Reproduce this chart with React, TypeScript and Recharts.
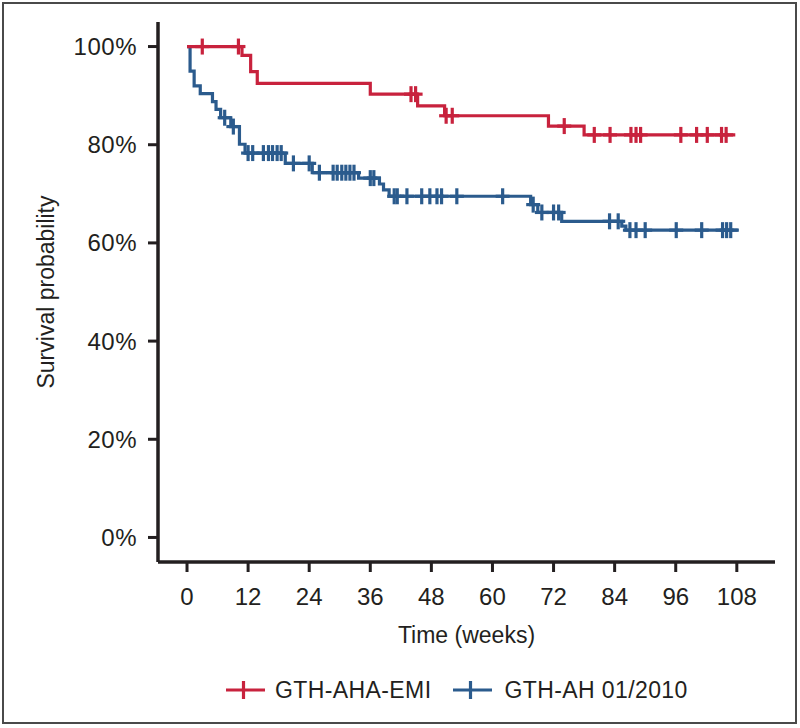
import React from "react";
import { LineChart, Line, XAxis, YAxis, Label, Legend } from "recharts";

// GTH-AHA-EMI (red)
const emiTime = [0, 3.0, 10.1, 10.8, 12.5, 13.8, 36.0, 44.0, 44.9, 45.3, 50.6, 50.9, 52.1, 71.0, 74.1, 78.0, 80.0, 83.1, 87.2, 88.2, 89.1, 97.0, 100.1, 102.2, 105.0, 105.9, 107.7];
const emiSurv = [100, 100, 100, 98.2, 94.9, 92.5, 90.3, 90.3, 90.3, 87.9, 85.9, 85.9, 85.9, 83.8, 83.8, 82.0, 82.0, 82.0, 82.0, 82.0, 82.0, 82.0, 82.0, 82.0, 82.0, 82.0, 82.0];
const emiCensored = [0, 1, 1, 0, 0, 0, 0, 1, 1, 0, 0, 1, 1, 0, 1, 0, 1, 1, 1, 1, 1, 1, 1, 1, 1, 1, 0];

// GTH-AH 01/2010 (blue)
const ahTime = [0, 0.6, 1.4, 2.6, 5.0, 5.7, 6.6, 7.4, 8.6, 9.1, 10.3, 11.4, 12.0, 12.9, 15.0, 16.0, 16.8, 17.7, 18.5, 19.3, 20.9, 24.0, 24.6, 26.0, 28.7, 29.5, 30.4, 31.2, 32.0, 32.8, 33.7, 36.0, 36.7, 37.8, 38.6, 39.7, 40.7, 41.3, 43.2, 46.1, 47.7, 49.1, 50.0, 53.0, 62.0, 67.5, 68.0, 68.9, 69.7, 72.0, 73.0, 73.6, 83.0, 84.7, 85.4, 86.2, 87.0, 88.2, 90.0, 96.1, 101.1, 105.2, 106.0, 106.8, 108.4];
const ahSurv = [100, 95.0, 92.0, 90.4, 88.8, 87.2, 85.5, 85.5, 83.7, 83.7, 80.1, 78.3, 78.3, 78.3, 78.3, 78.3, 78.3, 78.3, 78.3, 76.2, 76.2, 76.2, 74.3, 74.3, 74.3, 74.3, 74.3, 74.3, 74.3, 74.3, 73.2, 73.2, 73.2, 72.0, 70.8, 69.5, 69.5, 69.5, 69.5, 69.5, 69.5, 69.5, 69.5, 69.5, 69.5, 67.8, 67.8, 66.2, 66.2, 66.2, 66.2, 64.4, 64.4, 64.4, 63.4, 62.6, 62.6, 62.6, 62.6, 62.6, 62.6, 62.6, 62.6, 62.6, 62.6];
const ahCensored = [0, 0, 0, 0, 0, 0, 0, 1, 0, 1, 0, 0, 1, 1, 1, 1, 1, 1, 1, 0, 1, 1, 0, 1, 1, 1, 1, 1, 1, 1, 0, 1, 1, 0, 0, 0, 1, 1, 1, 1, 1, 1, 1, 1, 1, 0, 1, 0, 1, 1, 1, 0, 1, 1, 0, 0, 1, 1, 1, 1, 1, 1, 1, 1, 0];

const xTicks = [0, 12, 24, 36, 48, 60, 72, 84, 96, 108];
const yTicks = [0, 20, 40, 60, 80, 100];

const RED = "#c8223d";
const BLUE = "#2b5b8d";
const INK = "#231f20";
const FONT = "'Liberation Sans', Arial, Helvetica, sans-serif";

const toPoints = (time: number[], surv: number[], cens: number[]) =>
  time.map((t, i) => ({ t, s: surv[i], censored: cens[i] === 1 }));

const emiData = toPoints(emiTime, emiSurv, emiCensored);
const ahData = toPoints(ahTime, ahSurv, ahCensored);

// censored observations drawn as "+" marks on the step line
const censorMark = (color: string, name: string) => (props: any) => {
  const { cx, cy, payload, index } = props;
  if (!payload || !payload.censored) return <g key={`${name}-${index}`} />;
  return (
    <g key={`${name}-${index}`}>
      <line x1={cx - 7} x2={cx + 7} y1={cy} y2={cy} stroke={color} strokeWidth={3.2} />
      <line x1={cx} x2={cx} y1={cy - 8} y2={cy + 8} stroke={color} strokeWidth={3.2} />
    </g>
  );
};

const LegendIcon = ({ color }: { color: string }) => (
  <svg width={39} height={18} style={{ display: "block" }}>
    <line x1={0} x2={39} y1={9} y2={9} stroke={color} strokeWidth={3.2} />
    <line x1={17.5} x2={17.5} y1={0} y2={18} stroke={color} strokeWidth={3.2} />
  </svg>
);

const legendText = {
  fontFamily: FONT,
  fontSize: 23,
  letterSpacing: 0.4,
  color: INK,
};

const renderLegend = () => (
  <div style={{ display: "flex", alignItems: "center", height: 30, paddingLeft: 226 }}>
    <LegendIcon color={RED} />
    <span style={{ ...legendText, marginLeft: 10, marginRight: 22 }}>GTH-AHA-EMI</span>
    <LegendIcon color={BLUE} />
    <span style={{ ...legendText, marginLeft: 12 }}>GTH-AH 01/2010</span>
  </div>
);

export default function App() {
  return (
    <div style={{ position: "absolute", left: 0, top: 0, width: 800, height: 728, background: "#fff" }}>
      <div
        style={{
          position: "absolute",
          left: 2,
          top: 2,
          width: 795,
          height: 722,
          border: "2px solid #4a4a4a",
          boxSizing: "border-box",
        }}
      />
      <LineChart width={800} height={728} margin={{ top: 22, right: 25, left: 20, bottom: 46 }}>
        <XAxis
          type="number"
          dataKey="t"
          domain={[-5.7, 115.5]}
          ticks={xTicks}
          interval={0}
          height={90}
          tickSize={10}
          tickMargin={16}
          axisLine={{ stroke: INK, strokeWidth: 3.5 }}
          tickLine={{ stroke: INK, strokeWidth: 3 }}
          tick={{ fontSize: 24, fill: INK, fontFamily: FONT }}
        >
          <Label
            value="Time (weeks)"
            position="insideBottom"
            offset={9}
            style={{ fontSize: 23, fill: INK, fontFamily: FONT }}
          />
        </XAxis>
        <YAxis
          type="number"
          domain={[-5, 105]}
          ticks={yTicks}
          interval={0}
          width={138}
          tickSize={10}
          tickMargin={11}
          tickFormatter={(v) => `${v}%`}
          axisLine={{ stroke: INK, strokeWidth: 3.5 }}
          tickLine={{ stroke: INK, strokeWidth: 3 }}
          tick={{ fontSize: 24, fill: INK, fontFamily: FONT, letterSpacing: 0.5 }}
        >
          <Label
            value="Survival probability"
            angle={-90}
            position="insideLeft"
            offset={25.5}
            style={{ fontSize: 23, fill: INK, fontFamily: FONT, textAnchor: "middle" }}
          />
        </YAxis>
        <Legend
          verticalAlign="bottom"
          align="left"
          content={renderLegend}
          wrapperStyle={{ left: 0, bottom: 23, width: 800, height: 30 }}
        />
        <Line
          data={ahData}
          dataKey="s"
          name="GTH-AH 01/2010"
          type="stepAfter"
          stroke={BLUE}
          strokeWidth={3.2}
          dot={censorMark(BLUE, "ah")}
          activeDot={false}
          isAnimationActive={false}
        />
        <Line
          data={emiData}
          dataKey="s"
          name="GTH-AHA-EMI"
          type="stepAfter"
          stroke={RED}
          strokeWidth={3.2}
          dot={censorMark(RED, "emi")}
          activeDot={false}
          isAnimationActive={false}
        />
      </LineChart>
    </div>
  );
}
